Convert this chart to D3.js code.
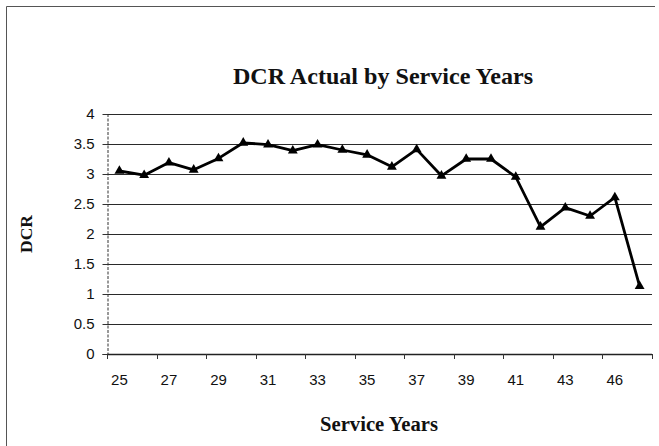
<!DOCTYPE html>
<html>
<head>
<meta charset="utf-8">
<script src="https://cdn.jsdelivr.net/npm/d3@7"></script>
<style>
  html, body { margin: 0; padding: 0; background: #fff; }
  svg { display: block; }
</style>
</head>
<body>
<svg id="chart" width="659" height="446"></svg>
<script>
// ---- data ----
const categories = [25,26,27,28,29,30,31,32,33,34,35,36,37,38,39,40,41,42,43,44,46,47];
const dcrValues  = [3.05,2.98,3.19,3.07,3.26,3.52,3.49,3.39,3.49,3.40,3.32,3.12,3.41,2.97,3.25,3.25,2.95,2.12,2.44,2.30,2.61,1.13];
const xTickLabels = [25,27,29,31,33,35,37,39,41,43,46];
const yTicks = [0,0.5,1,1.5,2,2.5,3,3.5,4];
const titleText = "DCR Actual by Service Years";
const xTitle = "Service Years";
const yTitle = "DCR";

// ---- layout ----
const W = 659, H = 446;
const plot = { left: 107, right: 652, top: 114, bottom: 354 };
const svg = d3.select("#chart");

// frame (scanned page border)
svg.append("line").attr("x1", 6.5).attr("y1", 6.5).attr("x2", 655).attr("y2", 6.5)
  .attr("stroke", "#555").attr("stroke-width", 1);
svg.append("line").attr("x1", 6.5).attr("y1", 6.5).attr("x2", 6.5).attr("y2", H)
  .attr("stroke", "#555").attr("stroke-width", 1);

const x = d3.scaleBand().domain(categories.map(String))
  .range([plot.left, plot.right]).padding(0);
const y = d3.scaleLinear().domain([0, 4]).range([plot.bottom, plot.top]);

// gridlines
svg.append("g").selectAll("line").data(yTicks.filter(d => d > 0)).join("line")
  .attr("x1", plot.left).attr("x2", plot.right)
  .attr("y1", d => Math.round(y(d)) + 0.5).attr("y2", d => Math.round(y(d)) + 0.5)
  .attr("stroke", "#2a2a2a").attr("stroke-width", 1.1);

const sans = "'Liberation Sans', Arial, sans-serif";

// y axis
const yAxis = d3.axisLeft(y).tickValues(yTicks).tickSize(5).tickPadding(8)
  .tickFormat(d => String(d));
const gy = svg.append("g").attr("transform", `translate(${plot.left + 0.5},0)`).call(yAxis);
gy.select(".domain").attr("stroke", "#333").attr("stroke-dasharray", "3,1.5");
gy.selectAll(".tick line").attr("stroke", "#333");
gy.selectAll(".tick text").attr("font-family", sans)
  .attr("font-size", 15).attr("fill", "#111");

// x axis: labels at category centres (every other), ticks at band edges every 2 categories
const xAxis = d3.axisBottom(x).tickValues(xTickLabels.map(String)).tickSize(0).tickPadding(20);
const gx = svg.append("g").attr("transform", `translate(0,${plot.bottom + 0.5})`).call(xAxis);
gx.select(".domain").remove();
gx.selectAll(".tick text").attr("font-family", sans)
  .attr("font-size", 15).attr("fill", "#111");

svg.append("line").attr("x1", plot.left).attr("x2", plot.right)
  .attr("y1", plot.bottom + 0.5).attr("y2", plot.bottom + 0.5)
  .attr("stroke", "#222").attr("stroke-width", 1.3);
const tickPos = categories.filter((d, i) => i % 2 === 0).map(d => x(String(d))).concat([x.range()[1]]);
svg.append("g").selectAll("line").data(tickPos).join("line")
  .attr("x1", d => Math.round(d) + 0.5).attr("x2", d => Math.round(d) + 0.5)
  .attr("y1", plot.bottom).attr("y2", plot.bottom + 5)
  .attr("stroke", "#333");

// line
const pts = categories.map((c, i) => ({ c: String(c), v: dcrValues[i] }));
const line = d3.line().x(d => x(d.c) + x.bandwidth() / 2).y(d => y(d.v));
svg.append("path").datum(pts).attr("d", line)
  .attr("fill", "none").attr("stroke", "#000").attr("stroke-width", 2.8)
  .attr("stroke-linejoin", "round");

// triangle markers
const tri = d3.symbol().type(d3.symbolTriangle).size(42);
svg.append("g").selectAll("path").data(pts).join("path")
  .attr("d", tri)
  .attr("transform", d => `translate(${x(d.c) + x.bandwidth() / 2},${y(d.v)})`)
  .attr("fill", "#000");

// titles
const serif = "'Liberation Serif', 'DejaVu Serif', serif";
function fitText(sel, targetWidth) {
  const w = sel.node().getComputedTextLength();
  const fs = parseFloat(sel.attr("font-size"));
  sel.attr("font-size", (fs * targetWidth / w).toFixed(2));
}
const t = svg.append("text").attr("x", 383).attr("y", 84).attr("text-anchor", "middle")
  .attr("font-family", serif).attr("font-weight", "bold").attr("font-size", 20)
  .attr("fill", "#111").text(titleText);
fitText(t, 300);

const xt = svg.append("text").attr("x", 379).attr("y", 431).attr("text-anchor", "middle")
  .attr("font-family", serif).attr("font-weight", "bold").attr("font-size", 16)
  .attr("fill", "#111").text(xTitle);
fitText(xt, 118);

const yt = svg.append("text").attr("transform", `translate(32,234) rotate(-90)`)
  .attr("text-anchor", "middle")
  .attr("font-family", serif).attr("font-weight", "bold").attr("font-size", 16)
  .attr("fill", "#111").text(yTitle);
fitText(yt, 38);
</script>
</body>
</html>
